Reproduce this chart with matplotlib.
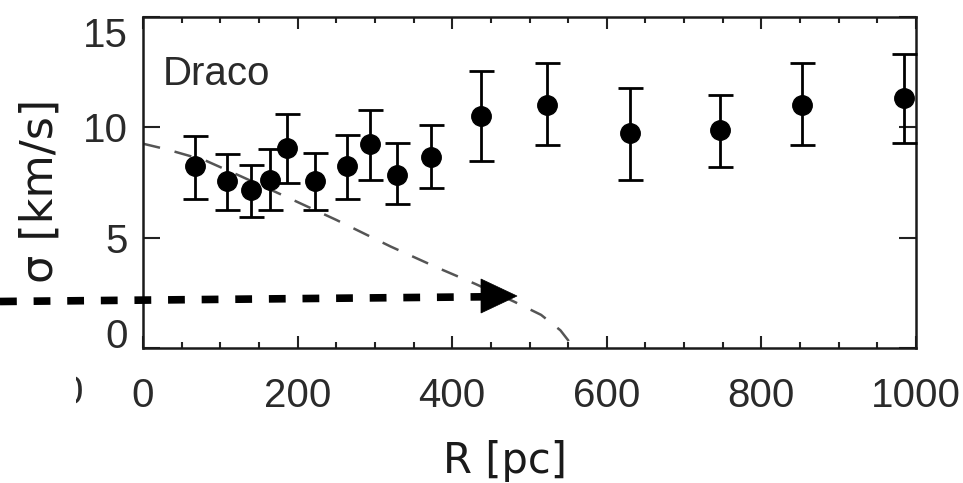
import matplotlib
matplotlib.use("Agg")
import matplotlib.pyplot as plt
import numpy as np
from matplotlib.lines import Line2D
from matplotlib.patches import Polygon
from matplotlib.transforms import Bbox

# ---------------- data ----------------
R_data = [67, 109, 140, 164, 186, 222, 264, 294, 329, 373, 437, 522, 630, 746, 852, 984]
sigma = [8.24, 7.55, 7.14, 7.62, 9.05, 7.55, 8.24, 9.25, 7.85, 8.64, 10.5, 11.0, 9.73, 9.85, 11.0, 11.31]
sigma_hi = [9.62, 8.80, 8.30, 8.99, 10.6, 8.84, 9.66, 10.79, 9.28, 10.1, 12.56, 12.9, 11.78, 11.46, 12.9, 13.32]
sigma_lo = [6.76, 6.24, 5.91, 6.24, 7.49, 6.24, 6.76, 7.59, 6.54, 7.24, 8.45, 9.17, 7.59, 8.19, 9.17, 9.28]

R_model = [0, 30, 80, 125, 185, 250, 320, 380, 430, 480, 515, 540, 550, 555]
sigma_model = [9.25, 9.0, 8.5, 7.8, 6.85, 5.8, 4.6, 3.65, 2.9, 2.1, 1.5, 0.8, 0.35, 0.0]

x_ticks = [0, 200, 400, 600, 800, 1000]
x_ticklabels = ["0", "200", "400", "600", "800", "1000"]
y_ticks = [0, 5, 10, 15]
y_ticklabels = ["0", "5", "10", "15"]

panel_name = "Draco"
x_label = "R [pc]"
y_label = "σ [km/s]"

# ---------------- figure ----------------
W, H = 963, 483
fig = plt.figure(figsize=(W / 100, H / 100), dpi=100)
fig.patch.set_facecolor("white")

def fx(px):
    return px / W

def fy(py):
    return 1 - py / H

ax = fig.add_axes([fx(143), fy(348), fx(916) - fx(143), fy(16.7) - fy(348)])
ax.set_xlim(0, 1000)
ax.set_ylim(0, 15)

tick_font = dict(family=["Liberation Sans", "DejaVu Sans"], size=29, color="#2a2a2a")

ax.set_xticks(x_ticks)
ax.set_xticklabels(x_ticklabels, **tick_font)
ax.set_xticks(np.arange(0, 1001, 50), minor=True)
ax.set_yticks(y_ticks)
ax.set_yticklabels(y_ticklabels, **tick_font)

ax.tick_params(axis="x", which="major", direction="in", length=8.6, width=1.5,
               top=True, bottom=True, pad=21, color="#222222")
ax.tick_params(axis="x", which="minor", direction="in", length=4.3, width=1.5,
               top=True, bottom=True, color="#222222")
ax.tick_params(axis="y", which="major", direction="in", length=12, width=1.5,
               left=True, right=True, pad=10.8, color="#222222")

# IDL-like label placement for the extreme y labels
ylabs = ax.get_yticklabels()
ylabs[0].set_va("baseline")
ylabs[-1].set_va("top")

for sp in ax.spines.values():
    sp.set_linewidth(1.8)
    sp.set_color("#1a1a1a")

# model curve
ax.plot(R_model, sigma_model, color="#555555", lw=1.8,
        linestyle=(0, (7, 6)), zorder=2)

# data with error bars
s = np.array(sigma)
yerr = [s - np.array(sigma_lo), np.array(sigma_hi) - s]
ax.errorbar(R_data, sigma, yerr=yerr, fmt="o", color="black", ms=14,
            elinewidth=2.0, capsize=9, capthick=2.0, zorder=3, clip_on=False)

# panel name
ax.text(25, 11.9, panel_name, family=["Liberation Sans", "DejaVu Sans"],
        size=29, color="#2a2a2a", va="baseline", ha="left")

# axis labels
fig.text(fx(504.5), fy(473), x_label, family=["DejaVu Sans"], size=30,
         color="#1a1a1a", ha="center", va="baseline")
fig.text(fx(40), fy(191), y_label, family=["DejaVu Sans"], size=32,
         color="#1a1a1a", ha="center", va="center", rotation=90)

# fragment of neighbouring panel's tick label at left edge
frag = fig.text(fx(83), fy(393), "0", family=["Liberation Sans"], size=29,
                color="#2a2a2a", ha="right", va="center")
frag.set_clip_box(Bbox.from_extents(76, 0, W, H))
frag.set_clip_on(True)

# annotation arrow (dashed shaft + solid head)
shaft = Line2D([fx(0), fx(484)], [fy(301.5), fy(296.8)], transform=fig.transFigure,
               color="black", lw=5.5, linestyle=(0, (2.2, 2.2)),
               solid_capstyle="butt", dash_capstyle="butt", zorder=10)
fig.add_artist(shaft)
head = Polygon([[fx(517), fy(296)], [fx(481), fy(279)], [fx(481), fy(313)]],
               closed=True, transform=fig.transFigure, facecolor="black",
               edgecolor="black", lw=0.5, zorder=10)
fig.add_artist(head)

fig.savefig("out.png", dpi=100, facecolor="white")
